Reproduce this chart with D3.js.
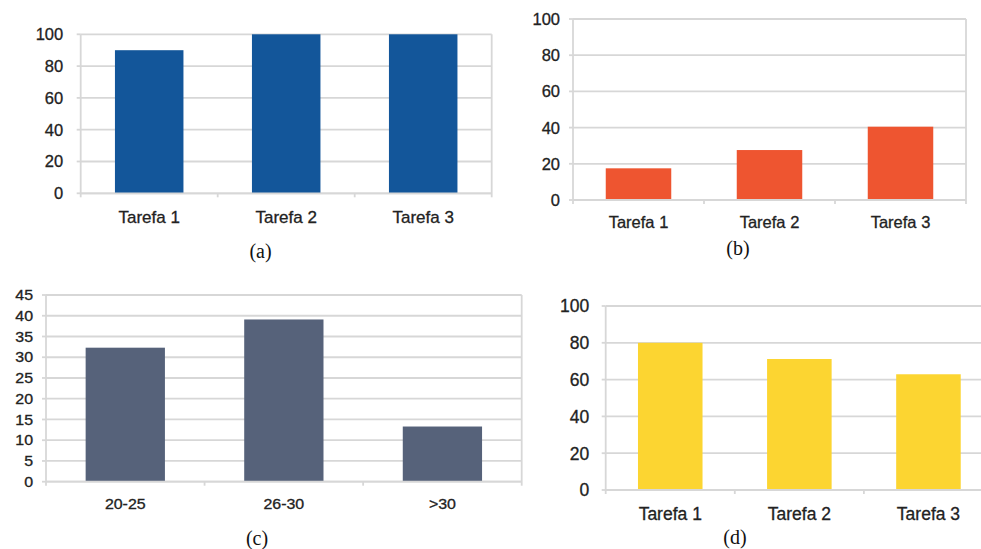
<!DOCTYPE html>
<html>
<head>
<meta charset="utf-8">
<script src="https://cdn.jsdelivr.net/npm/d3@7"></script>
<style>
  html, body { margin: 0; padding: 0; background: #fff; }
  svg { display: block; }
</style>
</head>
<body>
<svg id="fig" width="981" height="549"></svg>
<script>
// Categories
const tarefas = ["Tarefa 1", "Tarefa 2", "Tarefa 3"];
const faixasEtarias = ["20-25", "26-30", ">30"];

// Series values
const valoresA = [90, 100, 100];
const valoresB = [17.5, 27.6, 40.5];
const valoresC = [32.3, 39.1, 13.3];
const valoresD = [80, 71.2, 62.9];

// Tick labels
const ticks100 = [0, 20, 40, 60, 80, 100];
const ticks45 = [0, 5, 10, 15, 20, 25, 30, 35, 40, 45];

// Sub-figure captions
const legendas = ["(a)", "(b)", "(c)", "(d)"];

const svg = d3.select("#fig");
const gridColor = "#d7d7d7";
const textColor = "#222";
const sansFont = "'Liberation Sans', Arial, Helvetica, sans-serif";
const serifFont = "'Liberation Serif', 'Times New Roman', serif";

const panels = [
  { cats: tarefas, vals: valoresA, ticks: ticks100, max: 100, color: "#13569a",
    x0: 80.7, x1: 491.7, y0: 34.3, y1: 193.3, fy: 16.5, fx: 17, xLabelY: 223,
    yLabelGap: 17.5, sx: 1, caption: legendas[0], cx: 260.5, cy: 258 },
  { cats: tarefas, vals: valoresB, ticks: ticks100, max: 100, color: "#ee5530",
    x0: 573, x1: 966, y0: 19, y1: 200, fy: 16.5, fx: 16.5, xLabelY: 228,
    yLabelGap: 13, sx: 1, caption: legendas[1], cx: 738, cy: 255 },
  { cats: faixasEtarias, vals: valoresC, ticks: ticks45, max: 45, color: "#56627a",
    x0: 46, x1: 521.7, y0: 295, y1: 481.7, fy: 14, fx: 14, xLabelY: 508.5,
    yLabelGap: 13, sx: 1.14, caption: legendas[2], cx: 257, cy: 545 },
  { cats: tarefas, vals: valoresD, ticks: ticks100, max: 100, color: "#fcd531",
    x0: 605.7, x1: 993, y0: 306, y1: 490, fy: 17.5, fx: 17.5, xLabelY: 520,
    yLabelGap: 16.5, sx: 1, caption: legendas[3], cx: 735, cy: 544 }
];

panels.forEach(p => {
  const g = svg.append("g");
  const x = d3.scaleBand().domain(p.cats).range([p.x0, p.x1])
    .paddingInner(0.5).paddingOuter(0.25);
  const y = d3.scaleLinear().domain([0, p.max]).range([p.y1, p.y0]);

  // horizontal gridlines (top one doubles as the frame)
  g.selectAll("line.grid").data(p.ticks).join("line")
    .attr("x1", p.x0).attr("x2", p.x1)
    .attr("y1", d => y(d)).attr("y2", d => y(d))
    .attr("stroke", gridColor).attr("stroke-width", 1.8);

  // y tick marks
  g.selectAll("line.ytick").data(p.ticks).join("line")
    .attr("x1", p.x0 - 4).attr("x2", p.x0)
    .attr("y1", d => y(d)).attr("y2", d => y(d))
    .attr("stroke", gridColor).attr("stroke-width", 1.8);

  // left axis and right frame
  [p.x0, p.x1].forEach(xx => {
    g.append("line").attr("x1", xx).attr("x2", xx)
      .attr("y1", y(p.max)).attr("y2", y(0) + 4)
      .attr("stroke", gridColor).attr("stroke-width", 1.8);
  });

  // x tick marks at category boundaries
  const step = x.step();
  const bounds = p.cats.slice(1).map(c => x(c) - step * 0.25);
  g.selectAll("line.xtick").data(bounds).join("line")
    .attr("x1", d => d).attr("x2", d => d)
    .attr("y1", y(0)).attr("y2", y(0) + 4)
    .attr("stroke", gridColor).attr("stroke-width", 1.8);

  // bars
  g.selectAll("rect").data(p.vals).join("rect")
    .attr("x", (d, i) => x(p.cats[i]))
    .attr("width", x.bandwidth())
    .attr("y", d => y(d))
    .attr("height", d => y(0) - y(d))
    .attr("fill", p.color);

  // redraw baseline over bars
  g.append("line").attr("x1", p.x0).attr("x2", p.x1)
    .attr("y1", y(0)).attr("y2", y(0))
    .attr("stroke", gridColor).attr("stroke-width", 1.8);

  // y labels
  g.selectAll("text.ylab").data(p.ticks).join("text")
    .attr("transform", d => `translate(${p.x0 - p.yLabelGap},${y(d)}) scale(${p.sx},1)`)
    .attr("dy", "0.36em")
    .attr("text-anchor", "end")
    .attr("font-family", sansFont).attr("font-size", p.fy)
    .attr("fill", textColor).attr("stroke", textColor).attr("stroke-width", 0.3)
    .text(d => d);

  // x labels
  g.selectAll("text.xlab").data(p.cats).join("text")
    .attr("transform", d => `translate(${x(d) + x.bandwidth() / 2},${p.xLabelY}) scale(${p.sx},1)`)
    .attr("text-anchor", "middle")
    .attr("font-family", sansFont).attr("font-size", p.fx)
    .attr("fill", textColor).attr("stroke", textColor).attr("stroke-width", 0.3)
    .text(d => d);

  // caption
  g.append("text")
    .attr("x", p.cx).attr("y", p.cy)
    .attr("text-anchor", "middle")
    .attr("font-family", serifFont).attr("font-size", 20)
    .attr("fill", "#111")
    .text(p.caption);
});
</script>
</body>
</html>
